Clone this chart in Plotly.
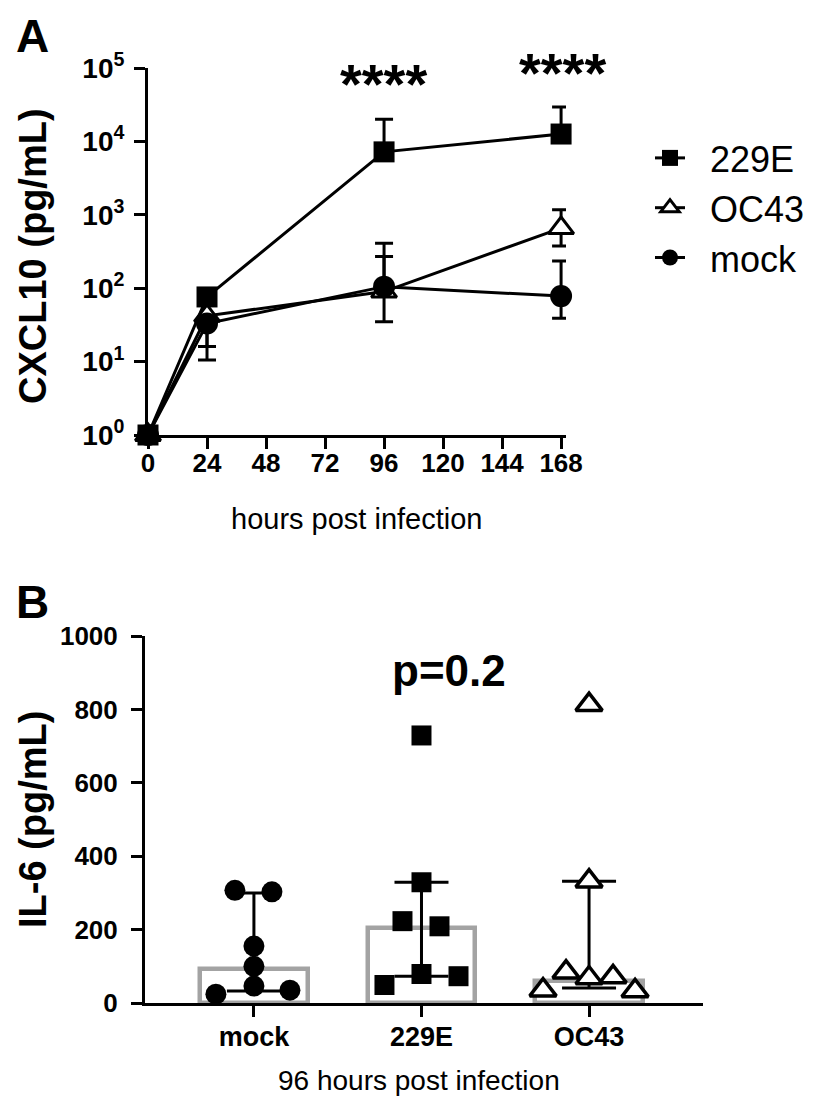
import plotly.graph_objects as go

W, H = 816, 1096
FONT = "Liberation Sans, Arial, sans-serif"

# ---------------- Panel A data (CXCL10, log scale) ----------------
hours = [0, 24, 96, 168]
x_ticks_a = [0, 24, 48, 72, 96, 120, 144, 168]

e229_mean = [1, 76, 7200, 12600]
e229_upper = [1, 76, 20000, 29500]
e229_lower = [1, 76, 7200, 12600]

oc43_mean = [1, 42, 90, 660]
oc43_upper = [1, 42, 270, 1170]
oc43_lower = [1, 16, 35, 376]

mock_mean = [1, 33, 105, 78]
mock_upper = [1, 33, 410, 234]
mock_lower = [1, 10.5, 105, 39]

y_ticks_a = [1, 10, 100, 1000, 10000, 100000]
y_ticktext_a = ["<b>10<sup>%d</sup></b>" % i for i in range(6)]

# ---------------- Panel B data (IL-6 at 96 h) ----------------
groups = ["mock", "229E", "OC43"]
bar_median = [93, 205, 60]
iqr_low = [33, 73, 41]
iqr_high = [300, 329, 332]

mock_pts = [307, 303, 155, 100, 46, 24, 35]
mock_jit = [-19, 18, 0, 0, 0, -38, 36]
e229_pts = [729, 329, 223, 209, 79, 73, 49]
e229_jit = [0, 0, -19, 18, 0, 37, -37]
oc43_pts = [813, 332, 84, 68, 71, 35, 33]
oc43_jit = [0, 0, -23, 0, 24, -46, 46]

# ---------------- layout geometry (pixels) ----------------
A_left, A_right, A_top, A_bot = 140, 558, 60, 427
B_left, B_right, B_top, B_bot = 137, 695, 628, 995
CAT_PX = 167.5  # pixels per category unit in panel B


def px(xp):
    return xp / W


def py(yp):
    return 1 - yp / H


fig = go.Figure()


def errs(mean, up, lo):
    return [u - m for u, m in zip(up, mean)], [m - l for m, l in zip(mean, lo)]


NB = "\u00a0\u00a0"
line_style = dict(color="black", width=3)
for name, mean, up, lo, sym, size, fill in [
    ("229E", e229_mean, e229_upper, e229_lower, "square", 21, "black"),
    ("OC43", oc43_mean, oc43_upper, oc43_lower, "triangle-up", 22, "white"),
    ("mock", mock_mean, mock_upper, mock_lower, "circle", 22, "black"),
]:
    plus, minus = errs(mean, up, lo)
    fig.add_trace(go.Scatter(
        x=hours, y=mean, name=NB + name, mode="lines+markers",
        line=line_style,
        marker=dict(symbol=sym, size=size, color=fill,
                    line=dict(color="black", width=3 if fill == "white" else 0)),
        error_y=dict(type="data", symmetric=False, array=plus, arrayminus=minus,
                     color="black", thickness=3, width=9),
        cliponaxis=False, xaxis="x", yaxis="y", showlegend=True,
    ))

# Panel B bars (median) and IQR error bars
cats = list(range(len(groups)))
fig.add_trace(go.Bar(
    x=cats, y=bar_median, width=0.64,
    marker=dict(color="rgba(255,255,255,0)", line=dict(color="#a3a3a3", width=4.5)),
    xaxis="x2", yaxis="y2", showlegend=False,
))
fig.add_trace(go.Scatter(
    x=cats, y=bar_median, mode="markers", marker=dict(opacity=0, size=1),
    error_y=dict(type="data", symmetric=False,
                 array=[h - m for h, m in zip(iqr_high, bar_median)],
                 arrayminus=[m - l for m, l in zip(bar_median, iqr_low)],
                 color="black", thickness=3, width=27),
    xaxis="x2", yaxis="y2", showlegend=False, cliponaxis=False,
))

for ci, pts, jit, sym, size, fill in [
    (0, mock_pts, mock_jit, "circle", 21, "black"),
    (1, e229_pts, e229_jit, "square", 20, "black"),
    (2, oc43_pts, oc43_jit, "triangle-up", 23, "white"),
]:
    fig.add_trace(go.Scatter(
        x=[ci + j / CAT_PX for j in jit], y=pts, mode="markers",
        marker=dict(symbol=sym, size=size, color=fill,
                    line=dict(color="black", width=3.5 if fill == "white" else 0)),
        xaxis="x2", yaxis="y2", showlegend=False, cliponaxis=False,
    ))

axis_common = dict(showline=True, linecolor="black", linewidth=3, ticks="outside",
                   ticklen=11, tickwidth=3, tickcolor="black", showgrid=False,
                   zeroline=False, automargin=False)

fig.update_layout(
    width=W, height=H, margin=dict(l=0, r=0, t=0, b=0),
    paper_bgcolor="white", plot_bgcolor="white",
    font=dict(family=FONT, color="black"),
    xaxis=dict(domain=[px(A_left), px(A_right)], range=[0, 170], anchor="y",
               tickvals=x_ticks_a, ticktext=["<b>%d</b>" % v for v in x_ticks_a],
               tickfont=dict(size=26), ticklabelstandoff=-8, **axis_common),
    yaxis=dict(domain=[py(A_bot), py(A_top)], type="log", range=[0, 5], anchor="x",
               tickvals=y_ticks_a, ticktext=y_ticktext_a, tickfont=dict(size=28),
               ticklabelstandoff=4, **axis_common),
    xaxis2=dict(domain=[px(B_left), px(B_right)], range=[-0.65, 2.68], anchor="y2",
                tickvals=cats, ticktext=["<b>%s</b>" % g for g in groups],
                tickfont=dict(size=27), ticklabelstandoff=-3, **axis_common),
    yaxis2=dict(domain=[py(B_bot), py(B_top)], range=[0, 1000], anchor="x2",
                tickvals=[0, 200, 400, 600, 800, 1000],
                ticktext=["<b>%d</b>" % v for v in [0, 200, 400, 600, 800, 1000]],
                tickfont=dict(size=26), ticklabelstandoff=8, **axis_common),
    legend=dict(x=px(642), y=py(120), xanchor="left", yanchor="top",
                font=dict(size=36, family=FONT), bgcolor="rgba(0,0,0,0)",
                itemwidth=30, tracegroupgap=0),
    bargap=0,
)

ann = [
    dict(text="<b>A</b>", x=px(24), y=py(28), size=46, xa="center", ya="middle", angle=0),
    dict(text="<b>B</b>", x=px(24), y=py(594), size=46, xa="center", ya="middle", angle=0),
    dict(text="hours post infection", x=px(348), y=py(511), size=29, xa="center", ya="middle", angle=0),
    dict(text="<b>CXCL10 (pg/mL)</b>", x=px(25), y=py(248), size=38, xa="center", ya="middle", angle=-90),
    dict(text="<b>IL-6 (pg/mL)</b>", x=px(25), y=py(812), size=38, xa="center", ya="middle", angle=-90),
    dict(text="96 hours post infection", x=px(411), y=py(1072), size=28, xa="center", ya="middle", angle=0),
    dict(text="<b>p=0.2</b>", x=px(441), y=py(662), size=44, xa="center", ya="middle", angle=0),
    dict(text="<b>****</b>", x=px(375), y=py(76), size=56, xa="center", ya="middle", angle=0),
    dict(text="<b>****</b>", x=px(554), y=py(65), size=56, xa="center", ya="middle", angle=0),
]
fig.update_layout(annotations=[
    dict(text=a["text"], x=a["x"], y=a["y"], xref="paper", yref="paper",
         xanchor=a["xa"], yanchor=a["ya"], textangle=a["angle"], showarrow=False,
         font=dict(size=a["size"], family=FONT, color="black"))
    for a in ann
])

fig.write_html("out.html")
